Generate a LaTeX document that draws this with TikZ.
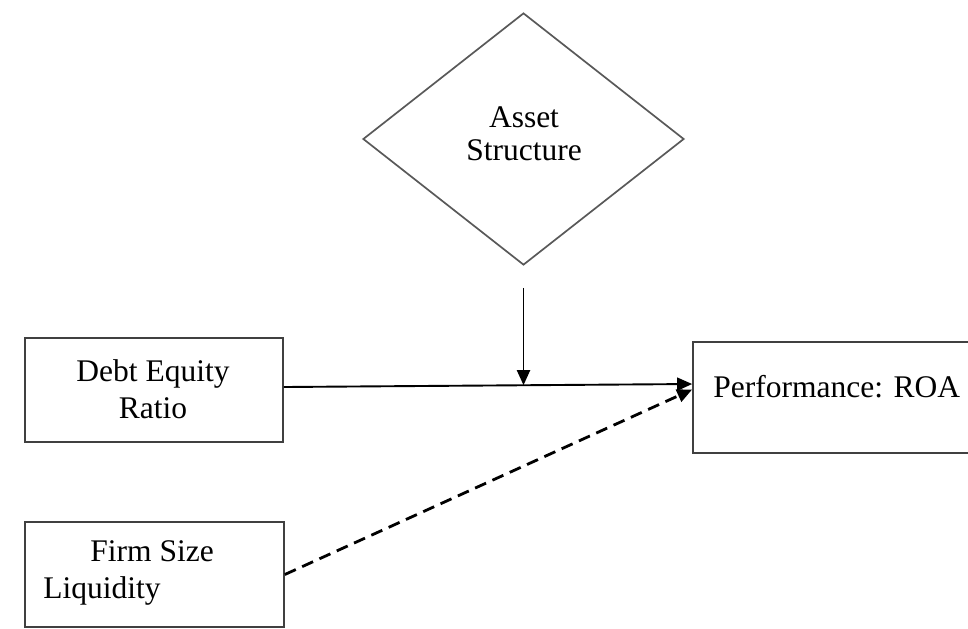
\documentclass[tikz,border=0pt]{standalone}
\usepackage{fontspec}
\setmainfont{Liberation Serif}
\usetikzlibrary{shapes.geometric,arrows.meta}
\begin{document}
\begin{tikzpicture}[x=0.5pt,y=-0.5pt,
  txt/.style={font=\fontsize{15.75}{18.5}\selectfont,inner sep=0pt,align=center},
  box/.style={draw=black!75,line width=0.85pt,rectangle,inner sep=0pt},
  moderator/.style={draw=black!65,line width=0.85pt,diamond,inner sep=0pt,
    minimum width=160.5pt,minimum height=126pt},
  arr/.style={line width=0.95pt,-{Triangle[length=7.5pt,width=6.5pt]}},
  dasharr/.style={line width=1.4pt,dash pattern=on 6pt off 3.5pt,
    -{Triangle[length=7.5pt,width=6.5pt]}}]
  \useasboundingbox (0,0) rectangle (968,628);

  % moderator
  \node[moderator] (asset) at (523.5,139) {};
  \node[txt,font=\fontsize{15.75}{16.5}\selectfont] (assetlbl) at (524,134) {Asset\\Structure};

  % independent variables
  \node[box,minimum width=129pt,minimum height=52pt] (debt) at (154,390) {};
  \node[txt] (debtlbl) at (153,389) {Debt Equity\\Ratio};

  \node[box,minimum width=129.5pt,minimum height=52.5pt] (firm) at (154.5,574.5) {};
  \node[txt,align=left,anchor=west] (firmlbl) at (43,573)
    {\hspace*{23.5pt}Firm Size\\Liquidity};

  % dependent variable (box runs past the right edge)
  \node[box,minimum width=138.5pt,minimum height=55.5pt] (perf) at (831.5,397.5) {};
  \node[txt,anchor=west] (perflbl) at (713,387) {Performance: ROA};

  % connectors
  \coordinate (mod) at (523.5,385.2);
  \draw[arr] ([yshift=1.5pt]debt.east) -- ([yshift=6.75pt]perf.west);
  \draw[arr] ([yshift=-11pt]asset.south) -- (mod);
  \draw[dasharr] (firm.east) -- ([yshift=4pt]perf.west);
\end{tikzpicture}
\end{document}
